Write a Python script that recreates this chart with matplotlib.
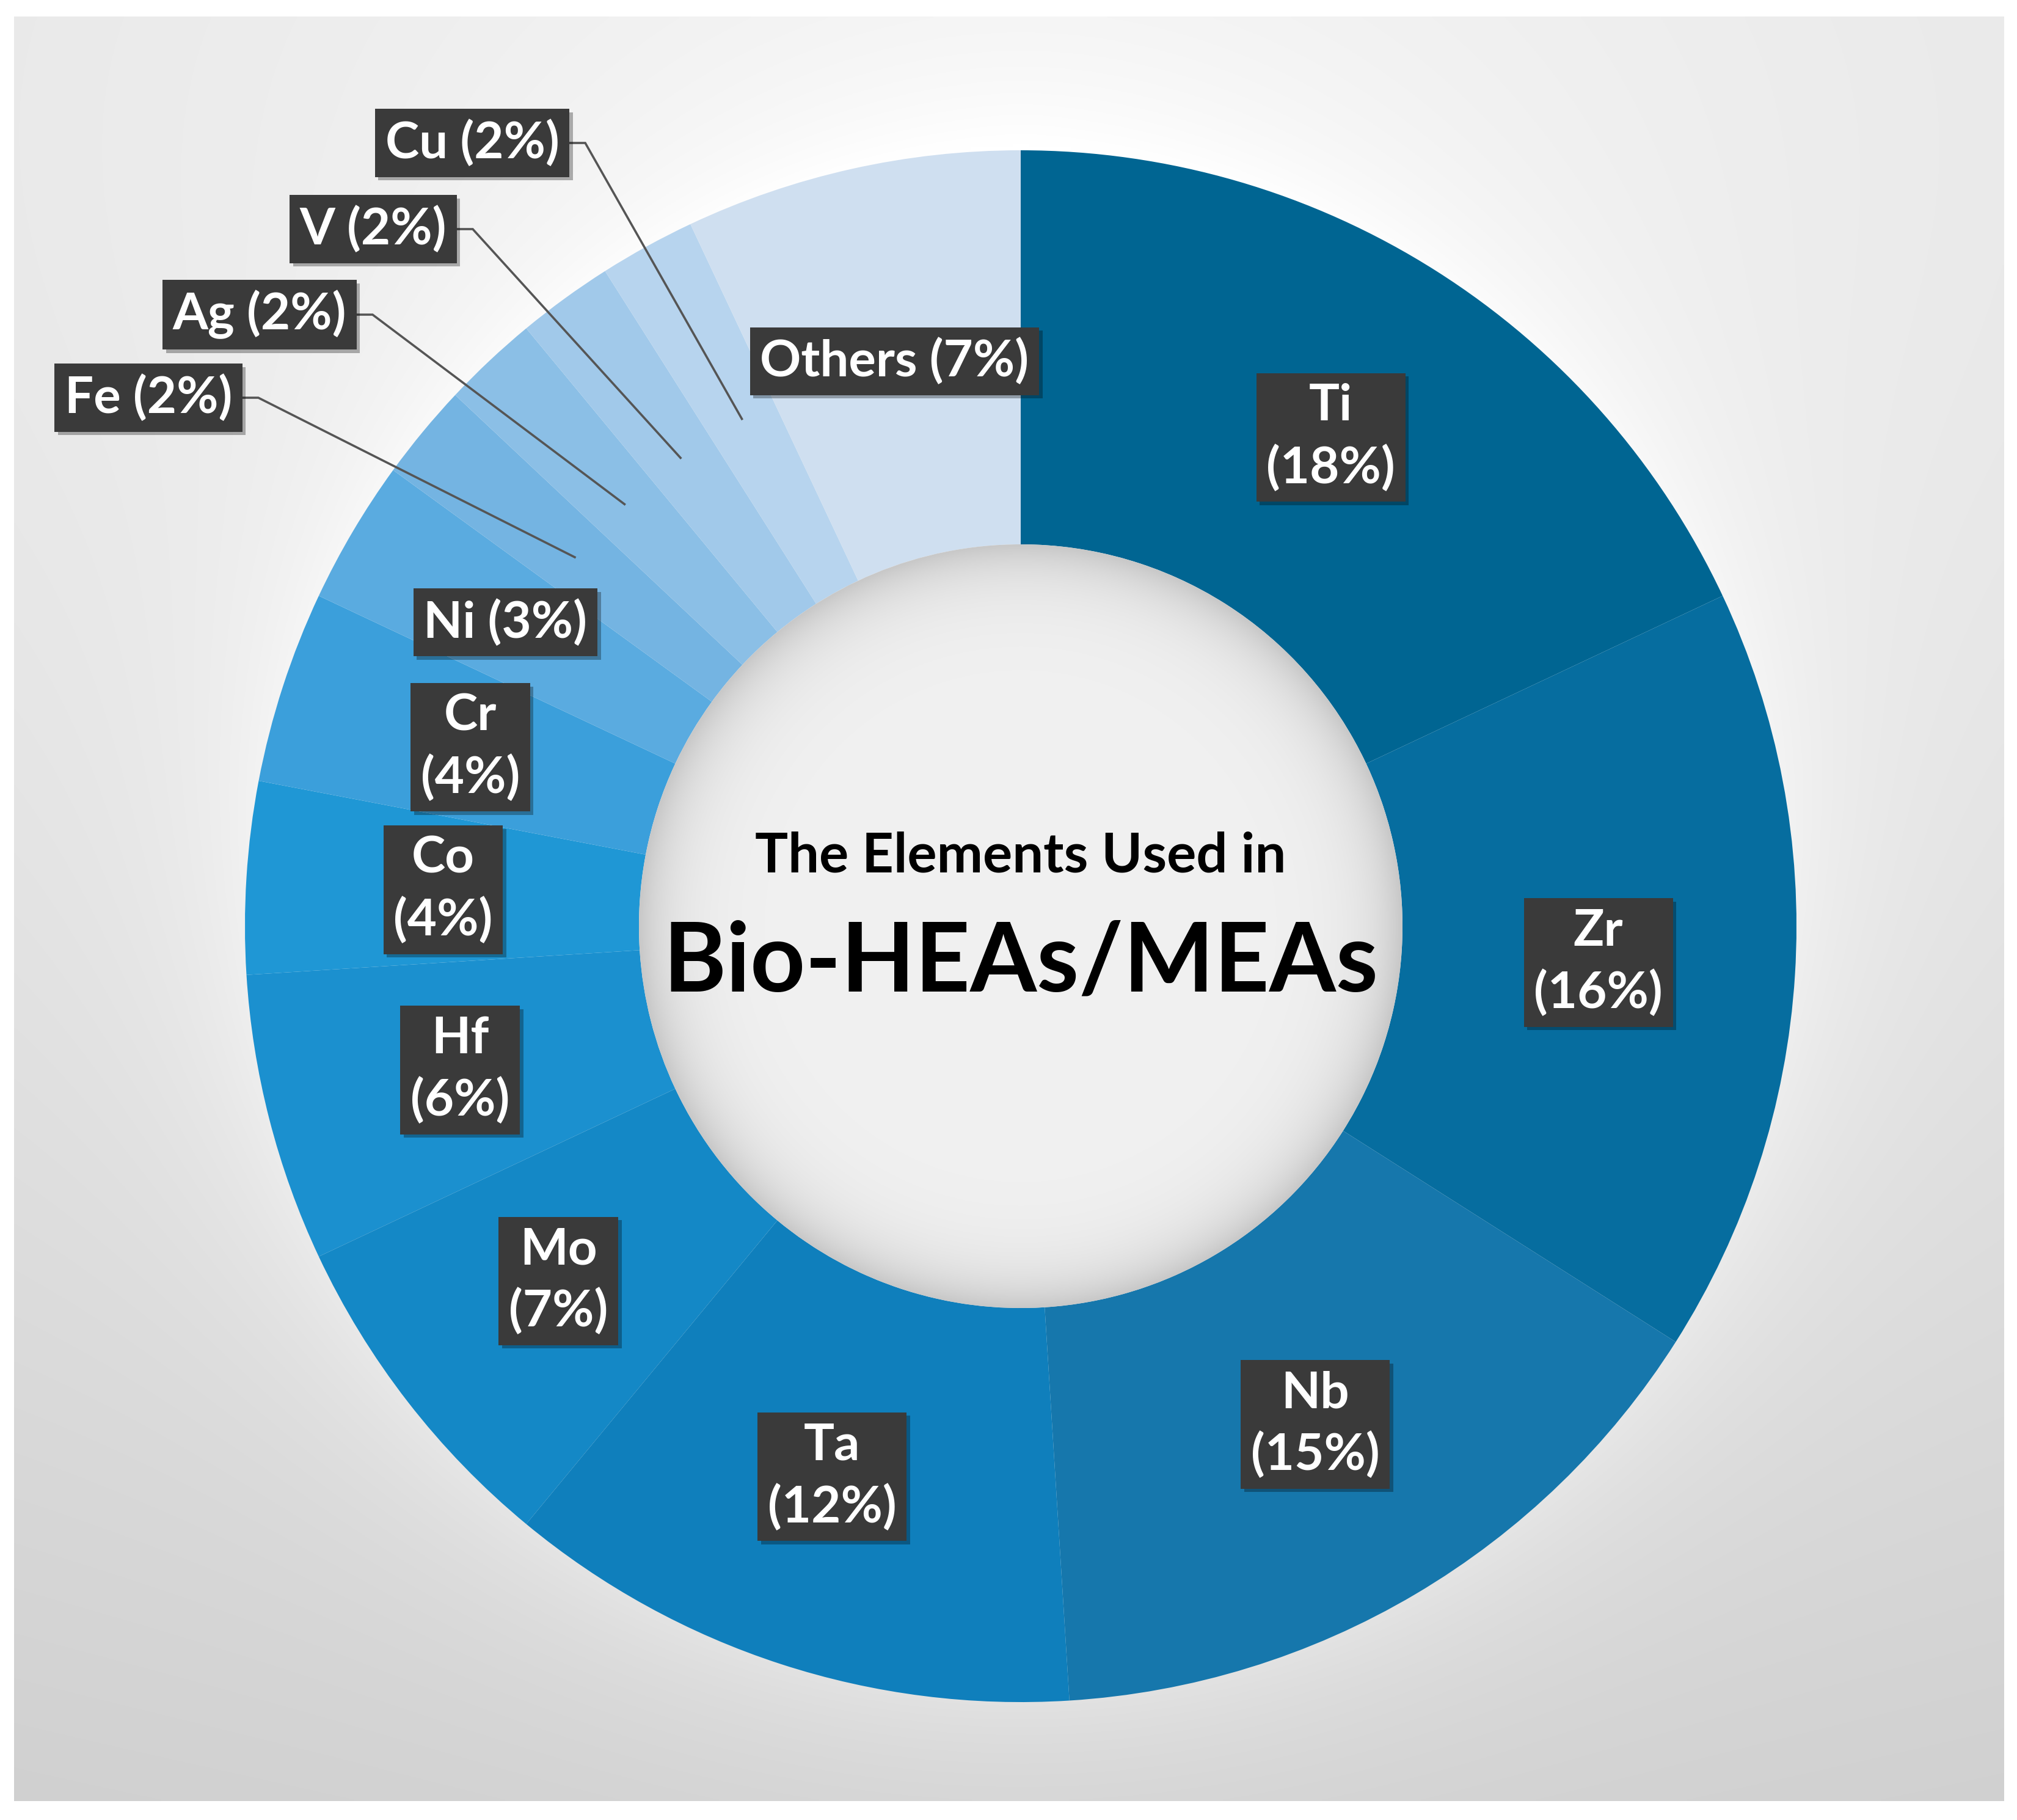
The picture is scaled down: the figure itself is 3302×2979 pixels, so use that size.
import numpy as np
import matplotlib
matplotlib.use("Agg")
import matplotlib.pyplot as plt
from matplotlib.patches import Circle
import matplotlib.patheffects as pe

# ---------------- data ----------------
elements = ["Ti", "Zr", "Nb", "Ta", "Mo", "Hf", "Co", "Cr", "Ni",
            "Fe", "Ag", "V", "Cu", "Others"]
shares = [18, 16, 15, 12, 7, 6, 4, 4, 3, 2, 2, 2, 2, 7]
colors = ["#006592", "#066d9f", "#1677ac", "#0f7fbc", "#1488c6", "#1b90cf",
          "#1f97d5", "#3b9fdb", "#5aabe0", "#74b4e2", "#8bbfe6", "#a1c9ea",
          "#b7d4ee", "#cfdff0"]
two_line = ["Ti", "Zr", "Nb", "Ta", "Mo", "Hf", "Co", "Cr"]
outside = ["Fe", "Ag", "V", "Cu"]
# label-box centres for the call-out labels (pixels, from top-left)
outside_xy = {"Fe": (243, 651), "Ag": (425, 515), "V": (611, 375), "Cu": (773, 234)}
label_nudge = {"Ni": (-28, 15), "Ta": (-16, 0), "Mo": (-8, 0)}
title1 = "The Elements Used in"
title2 = "Bio-HEAs/MEAs"

# ---------------- figure ----------------
W, H = 3302, 2979
fig = plt.figure(figsize=(W / 100, H / 100), dpi=100)
fig.patch.set_facecolor("white")
ax = fig.add_axes([0, 0, 1, 1])

cx, cy_top = 1671, 1516
cy = H - cy_top
R, r_in = 1270, 625
r_mid = (R + r_in) / 2

FONT = ["Lato", "DejaVu Sans"]

# background panel with gradient (light at top, darker at bottom)
x0, x1, y0t, y1t = 23, 3281, 27, 2948
nx, ny = 660, 584
xs = np.linspace(x0, x1, nx)
ys = np.linspace(y0t, y1t, ny)
X, Y = np.meshgrid(xs, ys)
d = np.hypot((X - cx) * 0.6, Y - 200)
v = 0.955 - 0.14 * np.clip(d / 2950, 0, 1) ** 1.2
dd = np.hypot(X - cx, Y - cy_top)
glow = 0.05 * np.exp(-np.clip(dd - R, 0, None) / 150.0)
v = np.clip(v + glow, 0, 1)
ax.imshow(np.dstack([v, v, v]), extent=(x0, x1, H - y1t, H - y0t),
          origin="upper", interpolation="bilinear", zorder=0, aspect="auto")

# donut
wedges, _ = ax.pie(shares, colors=colors, startangle=90, counterclock=False,
                   radius=R, center=(cx, cy),
                   wedgeprops=dict(width=R - r_in, linewidth=0))
for w in wedges:
    w.set_zorder(2)

# hole with inner shadow
hx = np.linspace(cx - r_in, cx + r_in, 500)
hy = np.linspace(cy - r_in, cy + r_in, 500)
HX, HY = np.meshgrid(hx, hy)
hr = np.hypot(HX - cx, HY - cy)
hv = 0.945 - 0.16 * np.exp(-np.clip(r_in - hr, 0, None) / 55.0)
hole = ax.imshow(np.dstack([hv, hv, hv]), extent=(cx - r_in, cx + r_in, cy - r_in, cy + r_in),
                 origin="lower", interpolation="bilinear", zorder=3, aspect="auto")
clip = Circle((cx, cy), r_in, transform=ax.transData)
hole.set_clip_path(clip)

ax.set_xlim(0, W)
ax.set_ylim(0, H)
ax.set_aspect("auto")
ax.axis("off")

# labels
FS = 60
box = dict(boxstyle="square,pad=0.2", facecolor="#3a3a3a", edgecolor="none")
shadow = [pe.SimplePatchShadow(offset=(4, -4), shadow_rgbFace="black", alpha=0.3), pe.Normal()]
cum = np.cumsum(shares)
total = float(sum(shares))
texts = {}
for name, val, c in zip(elements, shares, cum):
    frac = (c - val / 2) / total
    th = np.deg2rad(90 - 360 * frac)
    px, py = cx + r_mid * np.cos(th), cy + r_mid * np.sin(th)
    if name in outside:
        bx, by = outside_xy[name]
        t = ax.text(bx, H - by, f"{name} ({val}%)", ha="center", va="center",
                    fontsize=FS, fontweight="bold", color="white", family=FONT,
                    bbox=box, zorder=6)
        texts[name] = (t, px, py)
    else:
        nx_, ny_ = label_nudge.get(name, (0, 0))
        s = f"{name}\n({val}%)" if name in two_line else f"{name} ({val}%)"
        t = ax.text(px + nx_, py + ny_, s, ha="center", va="center", multialignment="center",
                    fontsize=FS, fontweight="bold", color="white", family=FONT,
                    linespacing=1.38, bbox=box, zorder=6)
    t.get_bbox_patch().set_path_effects(shadow)

fig.canvas.draw()
inv = ax.transData.inverted()
for name, (t, px, py) in texts.items():
    ext = t.get_bbox_patch().get_window_extent()
    (rx, _), = inv.transform([(ext.x1, 0)])
    (_, ryc), = inv.transform([(0, (ext.y0 + ext.y1) / 2)])
    ax.plot([rx, rx + 26, px], [ryc, ryc, py], color="#555555", lw=2.6,
            solid_joinstyle="miter", zorder=5)

# centre title
ax.text(cx, H - 1428, title1, ha="center", va="baseline", fontsize=65,
        fontweight="bold", color="black", family=FONT, zorder=7)
ax.text(cx, H - 1622, title2, ha="center", va="baseline", fontsize=113,
        fontweight="bold", color="black", family=FONT, zorder=7)

fig.savefig("out.png", dpi=100, facecolor="white")
